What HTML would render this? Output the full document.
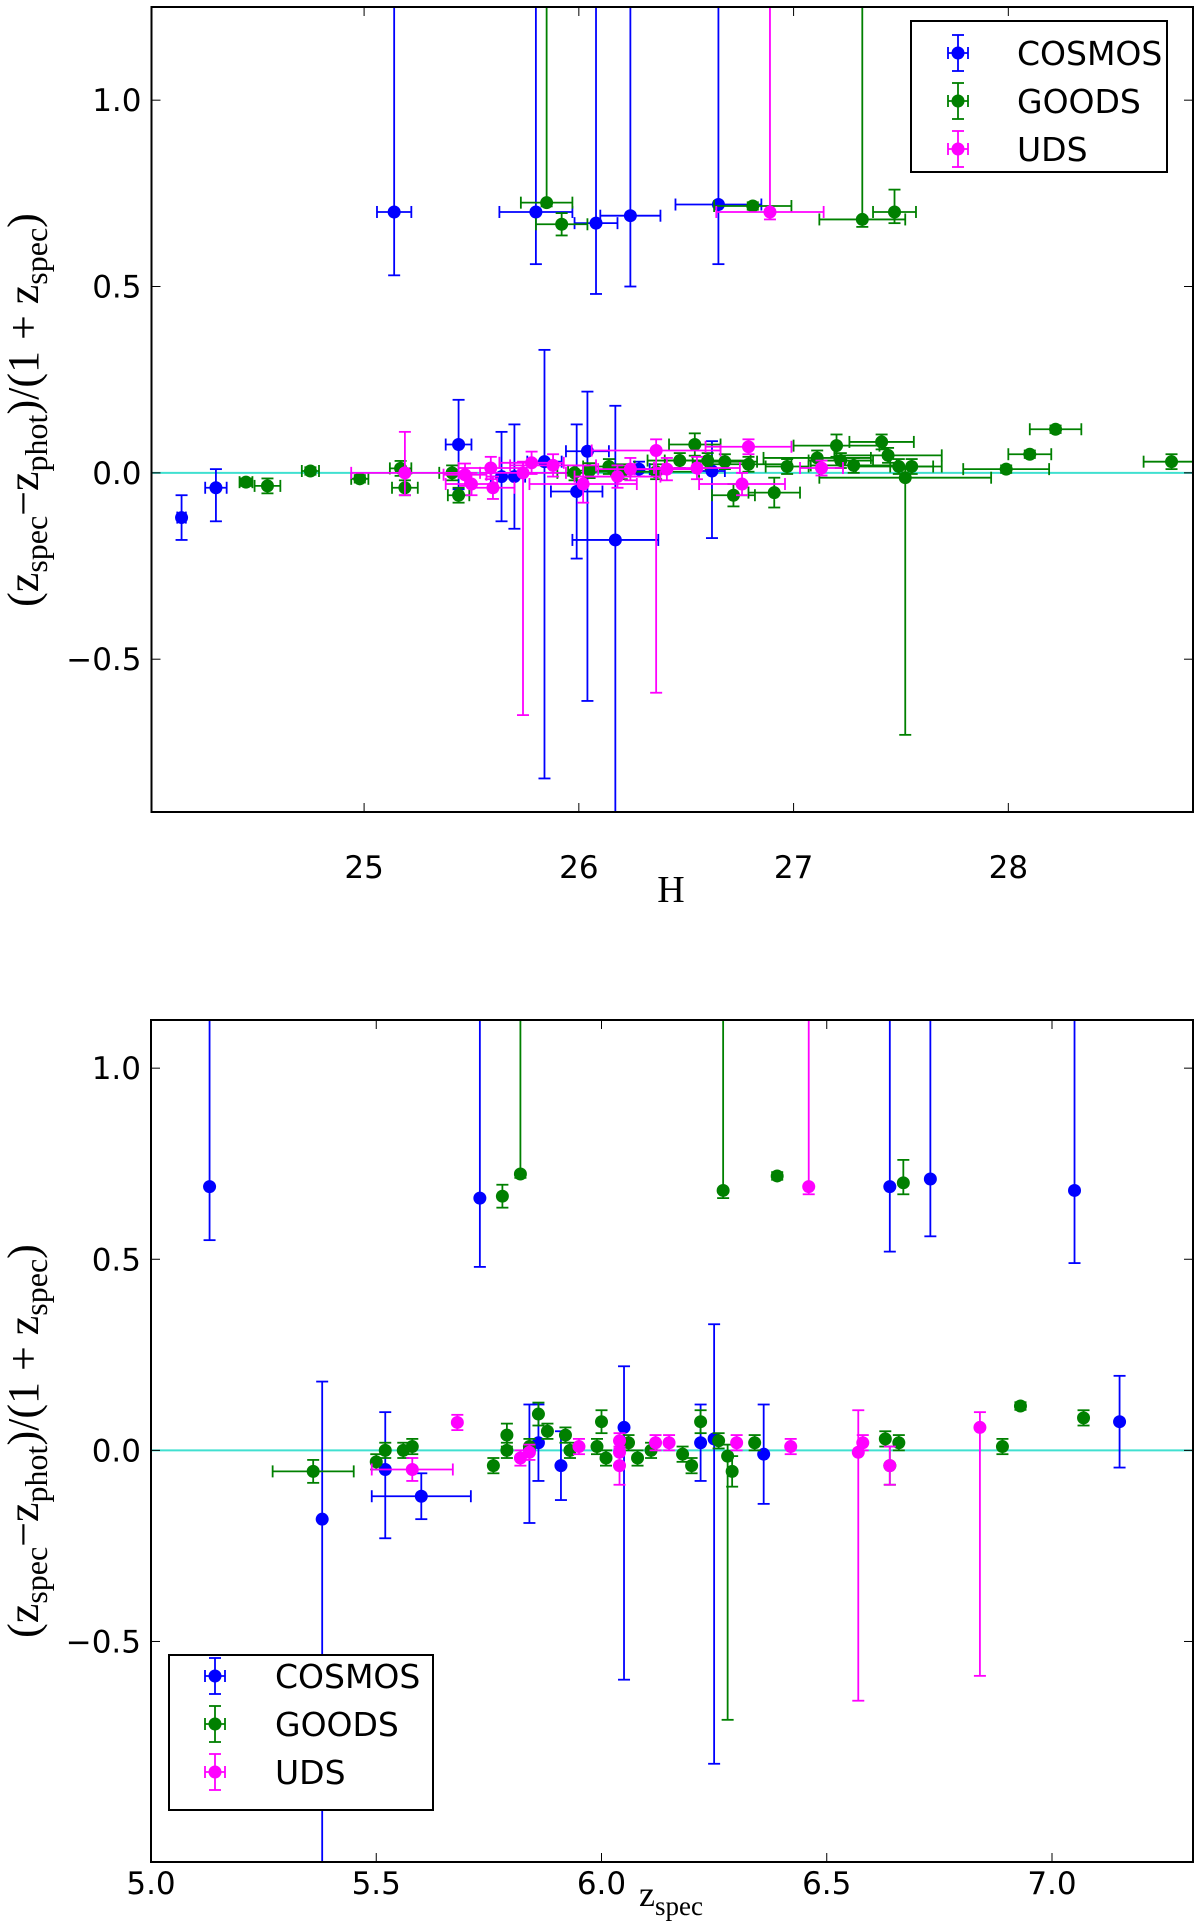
<!DOCTYPE html>
<html><head><meta charset="utf-8">
<style>
html,body{margin:0;padding:0;background:#fff;}
svg{display:block;}
text{font-family:"DejaVu Sans","Liberation Sans",sans-serif;}
</style></head>
<body>
<svg id="fig" width="1200" height="1924" viewBox="0 0 1200 1924" xmlns="http://www.w3.org/2000/svg">
<defs>
<clipPath id="clipTop"><rect x="151.5" y="7" width="1041.5" height="805"/></clipPath>
<clipPath id="clipBot"><rect x="151" y="1020" width="1042" height="842"/></clipPath>
</defs>
</svg>
<script>
// ===== TOP PANEL DATA (x = H magnitude) =====
const topCosmosX   = [24.15,24.31,25.14,25.44,25.64,25.70,25.80,25.84,25.99,26.04,26.08,26.17,26.24,26.65,26.62,26.28];
const topCosmosY   = [-0.12,-0.04,0.70,0.076,-0.01,-0.01,0.70,0.03,-0.05,0.058,0.67,-0.18,0.69,0.72,0.005,0.01];
const topCosmosYLo = [0.06,0.09,0.17,0.12,0.12,0.14,0.14,0.85,0.18,0.67,0.19,1.0,0.19,0.16,0.18,0.02];
const topCosmosYHi = [0.06,0.05,1.0,0.12,0.12,0.14,1.0,0.30,0.18,0.16,1.0,0.36,1.0,1.0,0.08,0.02];
const topCosmosXErr= [0.02,0.05,0.08,0.06,0.05,0.05,0.17,0.08,0.12,0.10,0.10,0.20,0.14,0.20,0.06,0.05];

const topGoodsX   = [24.45,24.55,24.75,24.98,25.17,25.19,25.44,25.41,25.85,25.92,25.98,26.05,26.14,26.20,26.36,26.47,26.54,26.60,26.68,26.72,26.79,26.81,26.91,26.97,27.11,27.20,27.22,27.28,27.32,27.41,27.44,27.47,27.49,27.52,27.55,27.99,28.10,28.22,28.76];
const topGoodsY   = [-0.025,-0.035,0.005,-0.016,0.012,-0.04,-0.06,0.0,0.725,0.667,0.0,0.006,0.017,0.003,0.003,0.033,0.076,0.033,0.03,-0.06,0.023,0.716,-0.053,0.017,0.04,0.073,0.033,0.02,0.68,0.083,0.047,0.70,0.017,-0.013,0.017,0.01,0.05,0.117,0.03];
const topGoodsYLo = [0.01,0.02,0.01,0.01,0.02,0.02,0.02,0.02,0.01,0.03,0.02,0.02,0.02,0.02,0.02,0.02,0.03,0.02,0.02,0.03,0.02,0.01,0.04,0.02,0.02,0.03,0.02,0.02,0.02,0.02,0.02,0.03,0.02,0.69,0.02,0.01,0.01,0.01,0.02];
const topGoodsYHi = [0.01,0.02,0.01,0.01,0.02,0.02,0.02,0.02,1.0,0.03,0.02,0.02,0.02,0.02,0.02,0.02,0.03,0.02,0.02,0.03,0.02,0.01,0.04,0.02,0.02,0.03,0.02,0.02,1.0,0.02,0.02,0.06,0.02,0.03,0.02,0.01,0.01,0.01,0.02];
const topGoodsXErr= [0.03,0.06,0.04,0.04,0.05,0.06,0.05,0.06,0.12,0.12,0.08,0.10,0.12,0.15,0.20,0.15,0.12,0.20,0.15,0.10,0.20,0.18,0.12,0.10,0.25,0.20,0.15,0.20,0.20,0.15,0.25,0.10,0.20,0.40,0.10,0.20,0.10,0.12,0.13];

const topUdsX   = [25.19,25.47,25.50,25.60,25.59,25.74,25.78,25.88,26.02,26.18,26.24,26.36,26.41,26.55,26.79,26.76,26.89,27.13];
const topUdsY   = [0.0,-0.005,-0.03,-0.04,0.013,0.0,0.027,0.02,-0.03,-0.01,0.01,0.06,0.01,0.013,0.07,-0.03,0.70,0.013];
const topUdsYLo = [0.06,0.03,0.03,0.03,0.03,0.65,0.03,0.03,0.05,0.03,0.03,0.65,0.03,0.03,0.02,0.03,0.02,0.02];
const topUdsYHi = [0.11,0.03,0.03,0.03,0.03,0.03,0.03,0.03,0.05,0.03,0.03,0.03,0.03,0.03,0.02,0.03,1.0,0.02];
const topUdsXErr= [0.25,0.10,0.12,0.10,0.15,0.20,0.15,0.20,0.25,0.20,0.15,0.30,0.15,0.20,0.20,0.20,0.25,0.10];

// ===== BOTTOM PANEL DATA (x = z_spec) =====
const botCosmosX   = [5.13,5.38,5.52,5.60,5.73,5.84,5.86,5.91,6.05,6.22,6.25,6.36,6.64,6.73,7.05,7.15];
const botCosmosY   = [0.69,-0.18,-0.05,-0.12,0.66,0.0,0.02,-0.04,0.06,0.02,0.03,-0.01,0.69,0.71,0.68,0.075];
const botCosmosYLo = [0.14,1.0,0.18,0.06,0.18,0.19,0.10,0.09,0.66,0.10,0.85,0.13,0.17,0.15,0.19,0.12];
const botCosmosYHi = [1.0,0.36,0.15,0.06,1.0,0.12,0.10,0.09,0.16,0.10,0.30,0.13,1.0,1.0,1.0,0.12];
const botCosmosXErr= [0.0,0.0,0.0,0.11,0.0,0.0,0.0,0.0,0.0,0.0,0.0,0.0,0.0,0.0,0.0,0.0];

const botGoodsX   = [5.36,5.50,5.52,5.56,5.58,5.76,5.78,5.79,5.79,5.82,5.84,5.86,5.88,5.92,5.93,5.99,6.00,6.01,6.06,6.08,6.11,6.18,6.20,6.22,6.26,6.27,6.28,6.29,6.34,6.39,6.63,6.64,6.66,6.67,6.89,6.93,7.07];
const botGoodsY   = [-0.055,-0.03,0.0,0.0,0.01,-0.04,0.665,0.04,0.0,0.723,0.01,0.095,0.05,0.04,0.0,0.01,0.075,-0.02,0.02,-0.02,0.0,-0.01,-0.04,0.075,0.025,0.68,-0.015,-0.055,0.02,0.718,0.03,-0.04,0.02,0.70,0.01,0.116,0.085];
const botGoodsYLo = [0.03,0.02,0.02,0.02,0.02,0.02,0.03,0.03,0.02,0.01,0.02,0.03,0.02,0.02,0.02,0.02,0.03,0.02,0.02,0.02,0.02,0.02,0.02,0.03,0.02,0.02,0.69,0.04,0.02,0.01,0.02,0.05,0.02,0.03,0.02,0.01,0.02];
const botGoodsYHi = [0.03,0.02,0.02,0.02,0.02,0.02,0.03,0.03,0.02,1.0,0.02,0.03,0.02,0.02,0.02,0.02,0.03,0.02,0.02,0.02,0.02,0.02,0.02,0.03,0.02,1.0,0.03,0.04,0.02,0.01,0.02,0.05,0.02,0.06,0.02,0.01,0.02];
const botGoodsXErr= [0.09,0.0,0.0,0.0,0.0,0.0,0.0,0.0,0.0,0.0,0.0,0.0,0.0,0.0,0.0,0.0,0.0,0.0,0.0,0.0,0.0,0.0,0.0,0.0,0.0,0.0,0.0,0.0,0.0,0.0,0.0,0.0,0.0,0.0,0.0,0.0,0.0];

const botUdsX   = [5.58,5.68,5.82,5.84,5.95,6.04,6.04,6.04,6.12,6.15,6.30,6.42,6.46,6.57,6.58,6.64,6.84];
const botUdsY   = [-0.05,0.073,-0.02,-0.005,0.01,-0.005,0.025,-0.04,0.02,0.02,0.02,0.01,0.69,-0.005,0.02,-0.04,0.06];
const botUdsYLo = [0.03,0.02,0.02,0.02,0.02,0.03,0.02,0.05,0.02,0.02,0.02,0.02,0.02,0.65,0.02,0.05,0.65];
const botUdsYHi = [0.03,0.02,0.02,0.02,0.02,0.03,0.02,0.05,0.02,0.02,0.02,0.02,1.0,0.11,0.02,0.05,0.04];
const botUdsXErr= [0.09,0.0,0.0,0.0,0.0,0.0,0.0,0.0,0.0,0.0,0.0,0.0,0.0,0.0,0.0,0.0,0.0];

const topXTicks = [25,26,27,28];
const topXTickLabels = ["25","26","27","28"];
const yTicks = [-0.5,0.0,0.5,1.0];
const yTickLabels = ["\u22120.5","0.0","0.5","1.0"];
const botXTicks = [5.0,5.5,6.0,6.5,7.0];
const botXTickLabels = ["5.0","5.5","6.0","6.5","7.0"];

const NS = "http://www.w3.org/2000/svg";
const svg = document.getElementById('fig');
function mk(tag, attrs, parent){
  const e = document.createElementNS(NS, tag);
  for (const k in attrs) e.setAttribute(k, attrs[k]);
  (parent||svg).appendChild(e);
  return e;
}

function panel(cfg){
  const g = mk('g', {});
  
  
  const sx = v => cfg.L + (v - cfg.x0)/(cfg.x1 - cfg.x0)*(cfg.R - cfg.L);
  const sy = v => cfg.B - (v - cfg.y0)/(cfg.y1 - cfg.y0)*(cfg.B - cfg.T);
  const zl = mk('line', {x1:cfg.L, x2:cfg.R, y1:sy(0), y2:sy(0), stroke:'#40e0d0', 'stroke-width':2}, g);
  
  
  const dg = mk('g', {'clip-path':'url(#'+cfg.clip+')'}, g);
  cfg.series.forEach(s => {
    const sg = mk('g', {stroke:s.color, fill:s.color}, dg);
    
    
    for (let i=0;i<s.x.length;i++){
      const px = sx(s.x[i]), py = sy(s.y[i]);
      const ytop = sy(s.y[i] + s.yhi[i]), ybot = sy(s.y[i] - s.ylo[i]);
      const pg = mk('g', {}, sg);
      
      
      mk('line', {x1:px, x2:px, y1:ytop, y2:ybot, 'stroke-width':1.8}, pg);
      mk('line', {x1:px-6, x2:px+6, y1:ytop, y2:ytop, 'stroke-width':1.8}, pg);
      mk('line', {x1:px-6, x2:px+6, y1:ybot, y2:ybot, 'stroke-width':1.8}, pg);
      if (s.xe[i] > 0){
        const xl = sx(s.x[i]-s.xe[i]), xr = sx(s.x[i]+s.xe[i]);
        mk('line', {x1:xl, x2:xr, y1:py, y2:py, 'stroke-width':1.8}, pg);
        mk('line', {x1:xl, x2:xl, y1:py-6, y2:py+6, 'stroke-width':1.8}, pg);
        mk('line', {x1:xr, x2:xr, y1:py-6, y2:py+6, 'stroke-width':1.8}, pg);
      }
      mk('circle', {cx:px, cy:py, r:6.5, stroke:'none'}, pg);
    }
  });
  const fr = mk('rect', {x:cfg.L, y:cfg.T, width:cfg.R-cfg.L, height:cfg.B-cfg.T, fill:'none', stroke:'#000', 'stroke-width':2}, g);
  
  
  cfg.xt.forEach((v,i) => {
    const x = sx(v);
    mk('line', {x1:x, x2:x, y1:cfg.B, y2:cfg.B-9, stroke:'#000', 'stroke-width':1}, g);
    mk('line', {x1:x, x2:x, y1:cfg.T, y2:cfg.T+9, stroke:'#000', 'stroke-width':1}, g);
    const t = mk('text', {x:x, y:cfg.B+cfg.xlOff, 'text-anchor':'middle', 'font-size':31, fill:'#000'}, g);
    t.textContent = cfg.xtl[i];
    
    
  });
  yTicks.forEach((v,i) => {
    const y = sy(v);
    mk('line', {x1:cfg.L, x2:cfg.L+9, y1:y, y2:y, stroke:'#000', 'stroke-width':1}, g);
    mk('line', {x1:cfg.R, x2:cfg.R-9, y1:y, y2:y, stroke:'#000', 'stroke-width':1}, g);
    const t = mk('text', {x:cfg.L-10, y:y+11, 'text-anchor':'end', 'font-size':31, fill:'#000'}, g);
    t.textContent = yTickLabels[i];
    
    
  });
  const lg = mk('g', {}, g);
  
  
  mk('rect', {x:cfg.leg.x, y:cfg.leg.y, width:cfg.leg.w, height:cfg.leg.h, fill:'#fff', stroke:'#000', 'stroke-width':2}, lg);
  cfg.series.forEach((s,i) => {
    const ey = cfg.leg.y + cfg.leg.off + i*48, mx = cfg.leg.mx;
    const eg = mk('g', {stroke:s.color, fill:s.color}, lg);
    
    
    mk('line', {x1:mx, x2:mx, y1:ey-18, y2:ey+18, 'stroke-width':1.8}, eg);
    mk('line', {x1:mx-6, x2:mx+6, y1:ey-18, y2:ey-18, 'stroke-width':1.8}, eg);
    mk('line', {x1:mx-6, x2:mx+6, y1:ey+18, y2:ey+18, 'stroke-width':1.8}, eg);
    mk('line', {x1:mx-10, x2:mx+10, y1:ey, y2:ey, 'stroke-width':1.8}, eg);
    mk('line', {x1:mx-10, x2:mx-10, y1:ey-6, y2:ey+6, 'stroke-width':1.8}, eg);
    mk('line', {x1:mx+10, x2:mx+10, y1:ey-6, y2:ey+6, 'stroke-width':1.8}, eg);
    mk('circle', {cx:mx, cy:ey, r:6.5, stroke:'none'}, eg);
    const t = mk('text', {x:cfg.leg.tx, y:ey+12, 'font-size':33, fill:'#000', stroke:'none'}, eg);
    t.textContent = s.label;
  });
}

panel({name:'top-panel-vs-H', L:151.5, R:1193, T:7, B:812, x0:24.01, x1:28.86, y0:-0.91, y1:1.25, clip:'clipTop',
  xt:topXTicks, xtl:topXTickLabels, xlOff:66,
  leg:{x:911, y:21, w:256, h:151, mx:958, tx:1017, off:32},
  series:[
    {label:'COSMOS', color:'#0000ff', x:topCosmosX, y:topCosmosY, ylo:topCosmosYLo, yhi:topCosmosYHi, xe:topCosmosXErr},
    {label:'GOODS', color:'#008000', x:topGoodsX, y:topGoodsY, ylo:topGoodsYLo, yhi:topGoodsYHi, xe:topGoodsXErr},
    {label:'UDS', color:'#ff00ff', x:topUdsX, y:topUdsY, ylo:topUdsYLo, yhi:topUdsYHi, xe:topUdsXErr}
  ]});
panel({name:'bottom-panel-vs-zspec', L:151, R:1193, T:1020, B:1862, x0:5.0, x1:7.313, y0:-1.077, y1:1.126, clip:'clipBot',
  xt:botXTicks, xtl:botXTickLabels, xlOff:32,
  leg:{x:169, y:1655, w:264, h:155, mx:215, tx:275, off:21},
  series:[
    {label:'COSMOS', color:'#0000ff', x:botCosmosX, y:botCosmosY, ylo:botCosmosYLo, yhi:botCosmosYHi, xe:botCosmosXErr},
    {label:'GOODS', color:'#008000', x:botGoodsX, y:botGoodsY, ylo:botGoodsYLo, yhi:botGoodsYHi, xe:botGoodsXErr},
    {label:'UDS', color:'#ff00ff', x:botUdsX, y:botUdsY, ylo:botUdsYLo, yhi:botUdsYHi, xe:botUdsXErr}
  ]});
</script>
<div style="position:absolute;left:0;top:0;width:1200px;height:1924px;pointer-events:none;">
<svg width="1200" height="1924" xmlns="http://www.w3.org/2000/svg" style="position:absolute;left:0;top:0">
  <text x="671" y="902" text-anchor="middle" font-size="38" style="font-family:'Liberation Serif','DejaVu Serif',serif">H</text>
  <text x="671" y="1906" text-anchor="middle" font-size="36" style="font-family:'Liberation Serif','DejaVu Serif',serif">z<tspan font-size="27" dy="9">spec</tspan></text>
  <text transform="translate(38,410) rotate(-90)" text-anchor="middle" font-size="44" style="font-family:'Liberation Serif','DejaVu Serif',serif">(z<tspan font-size="32" dy="9">spec</tspan><tspan dy="-9">−z</tspan><tspan font-size="32" dy="9">phot</tspan><tspan dy="-9">)/(1 + z</tspan><tspan font-size="32" dy="9">spec</tspan><tspan dy="-9">)</tspan></text>
  <text transform="translate(38,1441) rotate(-90)" text-anchor="middle" font-size="44" style="font-family:'Liberation Serif','DejaVu Serif',serif">(z<tspan font-size="32" dy="9">spec</tspan><tspan dy="-9">−z</tspan><tspan font-size="32" dy="9">phot</tspan><tspan dy="-9">)/(1 + z</tspan><tspan font-size="32" dy="9">spec</tspan><tspan dy="-9">)</tspan></text>
</svg>
</div>
</body></html>
